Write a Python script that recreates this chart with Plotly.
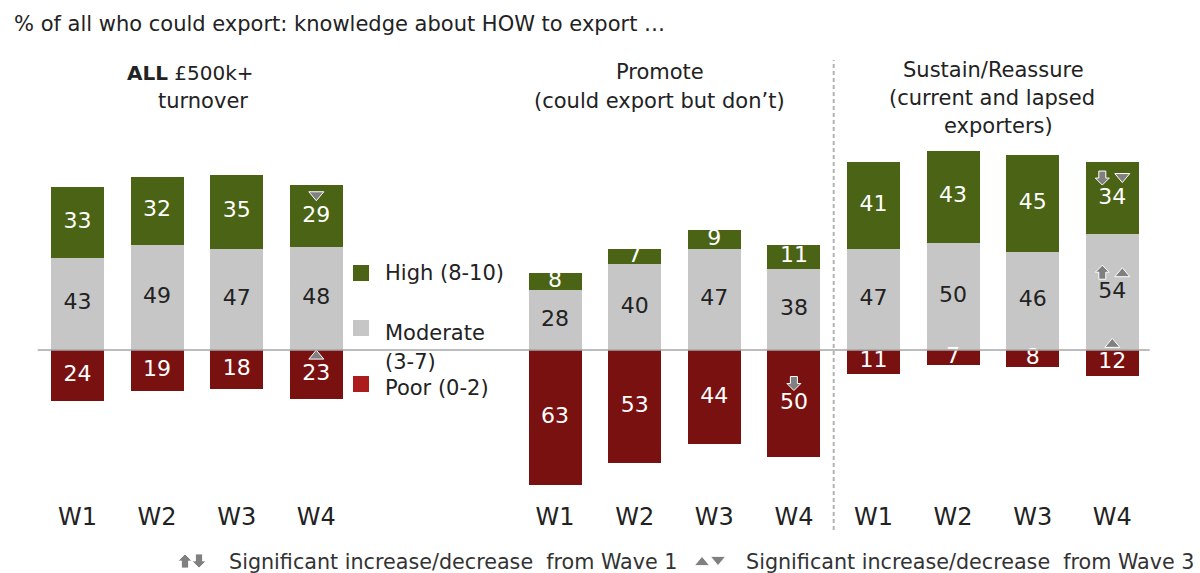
import plotly.graph_objects as go

# ---- data -------------------------------------------------------------
groups = ["ALL £500k+ turnover", "Promote", "Sustain/Reassure"]
waves = ["W1", "W2", "W3", "W4"]

high_all = [33, 32, 35, 29]
moderate_all = [43, 49, 47, 48]
poor_all = [24, 19, 18, 23]

high_promote = [8, 7, 9, 11]
moderate_promote = [28, 40, 47, 38]
poor_promote = [63, 53, 44, 50]

high_sustain = [41, 43, 45, 34]
moderate_sustain = [47, 50, 46, 54]
poor_sustain = [11, 7, 8, 12]

# significance flags: (group index, wave index, segment, [icons])
# "arrow" = vs Wave 1, "tri" = vs Wave 3
sig_flags = [
    (0, 3, "high", ["tri-down"]),
    (0, 3, "poor", ["tri-up"]),
    (1, 3, "poor", ["arrow-down"]),
    (2, 3, "high", ["arrow-down", "tri-down"]),
    (2, 3, "moderate", ["arrow-up", "tri-up"]),
    (2, 3, "poor", ["tri-up"]),
]

# ---- layout helpers ---------------------------------------------------
W, H = 1200, 573
MB = 73                     # bottom margin, plot area is 0..500 px tall
PH = H - MB
FONT = "DejaVu Sans"

GREEN = "#4a6314"
GREY = "#c6c6c6"
RED = "#7a1111"
LEG_RED = "#ad1c1c"
ICON = "#808080"

group_x = [[0, 1, 2, 3], [6, 7, 8, 9], [10, 11, 12, 13]]
x_pos = [x for g in group_x for x in g]
high = high_all + high_promote + high_sustain
moderate = moderate_all + moderate_promote + moderate_sustain
poor = poor_all + poor_promote + poor_sustain
tick_text = waves * 3


def px(xp):
    return xp / W


def py(yp):
    return 1 - yp / PH


fig = go.Figure()

fig.add_trace(go.Bar(x=x_pos, y=moderate, marker_color=GREY, width=0.666,
                     marker_line_width=0, hoverinfo="skip"))
fig.add_trace(go.Bar(x=x_pos, y=high, marker_color=GREEN, width=0.666,
                     marker_line_width=0, hoverinfo="skip"))
fig.add_trace(go.Bar(x=x_pos, y=[-v for v in poor], marker_color=RED, width=0.666,
                     marker_line_width=0, hoverinfo="skip"))

# value labels at the middle of each segment
mid_mod = [m / 2 for m in moderate]
mid_high = [m + h / 2 for m, h in zip(moderate, high)]
mid_poor = [-p / 2 for p in poor]
label_font = dict(family=FONT, size=22)
fig.add_trace(go.Scatter(x=x_pos, y=mid_mod, text=[str(v) for v in moderate],
                         mode="text", textfont=dict(label_font, color="#222222"),
                         hoverinfo="skip"))
fig.add_trace(go.Scatter(x=x_pos, y=mid_high, text=[str(v) for v in high],
                         mode="text", textfont=dict(label_font, color="white"),
                         hoverinfo="skip"))
fig.add_trace(go.Scatter(x=x_pos, y=mid_poor, text=[str(v) for v in poor],
                         mode="text", textfont=dict(label_font, color="white"),
                         hoverinfo="skip"))


# ---- significance icons (pixel-sized paths) ---------------------------
def icon_path(kind, cx, cy, scale=1.0):
    s = scale
    if kind == "arrow-down":
        pts = [(-3.5, 7), (3.5, 7), (3.5, 0), (7, 0), (0, -7), (-7, 0), (-3.5, 0)]
    elif kind == "arrow-up":
        pts = [(-3.5, -7), (3.5, -7), (3.5, 0), (7, 0), (0, 7), (-7, 0), (-3.5, 0)]
    elif kind == "tri-down":
        pts = [(-7.5, 4.5), (7.5, 4.5), (0, -4.5)]
    else:
        pts = [(-7.5, -4.5), (7.5, -4.5), (0, 4.5)]
    return "M " + " L ".join(f"{cx + x * s:.2f},{cy + y * s:.2f}" for x, y in pts) + " Z"


shapes = []
seg_mid = {"high": mid_high, "moderate": mid_mod, "poor": mid_poor}
for gi, wi, seg, icons in sig_flags:
    idx = gi * 4 + wi
    n = len(icons)
    offsets = [0] if n == 1 else [-10, 10]
    for kind, dx in zip(icons, offsets):
        shapes.append(dict(type="path", xref="x", yref="y",
                           xsizemode="pixel", ysizemode="pixel",
                           xanchor=x_pos[idx], yanchor=seg_mid[seg][idx],
                           path=icon_path(kind, dx, 20),
                           fillcolor=ICON, line=dict(color="white", width=1),
                           layer="above"))

# zero line
shapes.append(dict(type="line", xref="x", yref="y", x0=-0.5, x1=13.47, y0=0, y1=0,
                   line=dict(color="#a6a6a6", width=1.3), layer="above"))
# dashed divider between Promote and Sustain/Reassure
shapes.append(dict(type="line", xref="x", yref="paper", x0=9.5, x1=9.5,
                   y0=py(530), y1=py(60),
                   line=dict(color="#b3b3b3", width=2, dash="4px,3px")))

# legend squares
for yc, col in [(273, GREEN), (328, GREY), (384, LEG_RED)]:
    shapes.append(dict(type="rect", xref="paper", yref="paper",
                       x0=px(353), x1=px(369), y0=py(yc + 8), y1=py(yc - 8),
                       fillcolor=col, line=dict(width=0)))

# footnote icons
for kind, xc in [("arrow-up", 185), ("arrow-down", 199)]:
    shapes.append(dict(type="path", xref="paper", yref="paper",
                       xsizemode="pixel", ysizemode="pixel",
                       xanchor=px(xc), yanchor=py(561),
                       path=icon_path(kind, 0, 0, 1.0),
                       fillcolor=ICON, line=dict(color="white", width=0.8)))
for kind, xc in [("tri-up", 702), ("tri-down", 718)]:
    shapes.append(dict(type="path", xref="paper", yref="paper",
                       xsizemode="pixel", ysizemode="pixel",
                       xanchor=px(xc), yanchor=py(561),
                       path=icon_path(kind, 0, 0, 1.0),
                       fillcolor=ICON, line=dict(color="white", width=0.8)))

# ---- text annotations -------------------------------------------------
ann = []


def text(t, xp, yp, size, anchor="center", color="#222222"):
    ann.append(dict(text=t, xref="paper", yref="paper", x=px(xp), y=py(yp),
                    xanchor=anchor, yanchor="middle", showarrow=False,
                    font=dict(family=FONT, size=size, color=color)))


text("% of all who could export: knowledge about HOW to export …", 12, 24, 21, "left")
text("<b>ALL</b> £500k+", 190, 73, 20)
text("turnover", 203, 101, 21)
text("Promote", 660, 72, 21)
text("(could export but don’t)", 659, 101, 21)
text("Sustain/Reassure", 993, 70, 21)
text("(current and lapsed", 992, 98, 21)
text("exporters)", 998, 126, 21)

text("High (8-10)", 383, 273, 21, "left")
text("Moderate", 383, 333, 21, "left")
text("(3-7)", 383, 362, 21, "left")
text("Poor (0-2)", 383, 388, 21, "left")

text("Significant increase/decrease  from Wave 1", 227, 562, 20.7, "left", "#333333")
text("Significant increase/decrease  from Wave 3", 744, 562, 20.7, "left", "#333333")

fig.update_layout(
    width=W, height=H,
    margin=dict(l=0, r=0, t=0, b=MB),
    barmode="relative",
    bargap=0,
    showlegend=False,
    plot_bgcolor="white",
    paper_bgcolor="white",
    shapes=shapes,
    annotations=ann,
    xaxis=dict(range=[-77.5 / 79.6, (W - 77.5) / 79.6], tickvals=x_pos,
               ticktext=tick_text, showgrid=False, zeroline=False, showline=False,
               ticks="", tickfont=dict(family=FONT, size=24, color="#222222")),
    yaxis=dict(range=[-(PH - 350) / 2.14, 350 / 2.14], visible=False),
)

fig.write_html("out.html")
